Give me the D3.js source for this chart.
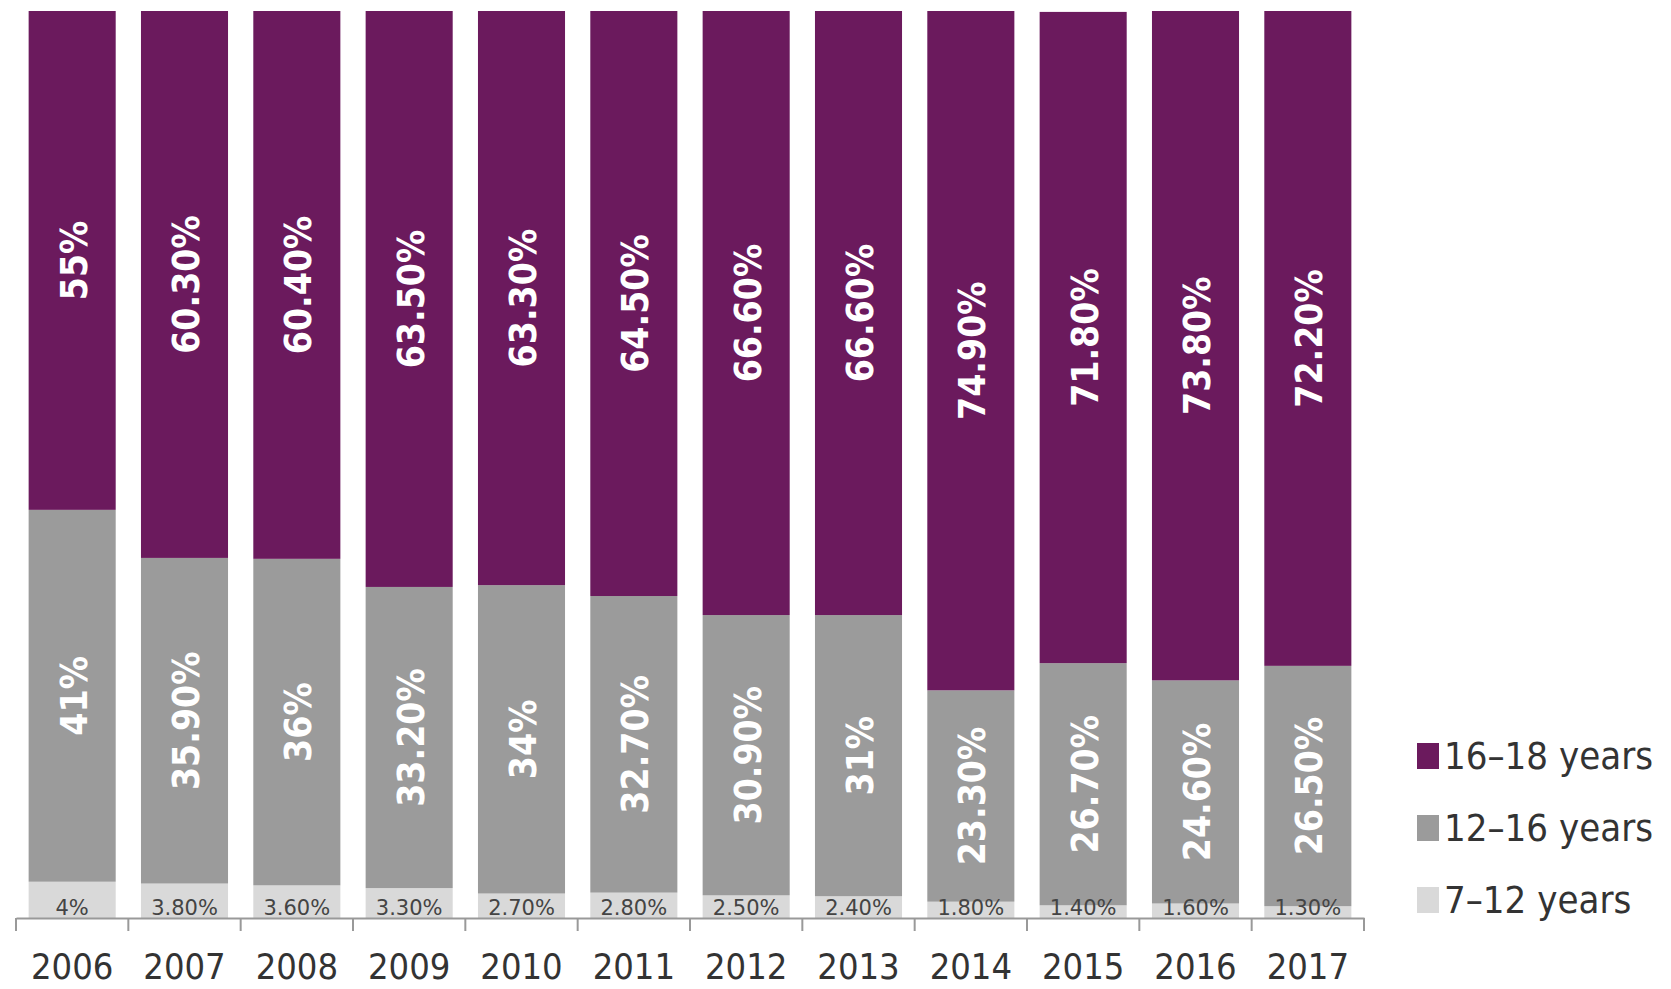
<!DOCTYPE html>
<html>
<head>
<meta charset="utf-8">
<script src="https://cdn.jsdelivr.net/npm/d3@7"></script>
<style>
  html, body { margin: 0; padding: 0; background: #ffffff; }
  svg { display: block; }
</style>
</head>
<body>
<script>
// Share of learners by age group, per year (percent)
const years = ["2006", "2007", "2008", "2009", "2010", "2011", "2012", "2013", "2014", "2015", "2016", "2017"];
const age16to18 = [55, 60.3, 60.4, 63.5, 63.3, 64.5, 66.6, 66.6, 74.9, 71.8, 73.8, 72.2];
const age12to16 = [41, 35.9, 36, 33.2, 34, 32.7, 30.9, 31, 23.3, 26.7, 24.6, 26.5];
const age7to12 = [4, 3.8, 3.6, 3.3, 2.7, 2.8, 2.5, 2.4, 1.8, 1.4, 1.6, 1.3];
const seriesNames = ["7–12 years", "12–16 years", "16–18 years"];
const seriesColors = ["#d9d9d9", "#9b9b9b", "#6b1a5d"];

const W = 1671, H = 989;
const svg = d3.select("body").append("svg").attr("width", W).attr("height", H);

const x = d3.scaleBand().domain(years).range([16, 1364]).paddingInner(0.225).paddingOuter(0.1125);
const y = d3.scaleLinear().domain([0, 100]).range([918, 11]);

const rows = years.map((yr, i) => ({ year: yr, a: age7to12[i], b: age12to16[i], c: age16to18[i] }));
const stack = d3.stack().keys(["a", "b", "c"]);
const layers = stack(rows);

const fmt = v => Number.isInteger(v) ? v + "%" : v.toFixed(2) + "%";

const condensed = "'DejaVu Sans Condensed', 'DejaVu Sans', sans-serif";

// stacked bars
const g = svg.append("g");
layers.forEach((layer, li) => {
  g.selectAll(null).data(layer).enter().append("rect")
    .attr("x", d => x(d.data.year))
    .attr("width", x.bandwidth())
    .attr("y", d => y(d[1]))
    .attr("height", d => y(d[0]) - y(d[1]))
    .attr("fill", seriesColors[li]);
});

// rotated value labels in the two upper segments
[1, 2].forEach(li => {
  g.selectAll(null).data(layers[li]).enter().append("text")
    .attr("transform", d => {
      const cx = x(d.data.year) + x.bandwidth() / 2 + 2;
      const cy = (y(d[0]) + y(d[1])) / 2;
      return `translate(${cx},${cy}) rotate(-90)`;
    })
    .attr("text-anchor", "middle")
    .attr("dominant-baseline", "central")
    .attr("fill", "#ffffff")
    .style("font-family", condensed)
    .style("font-weight", "bold")
    .style("font-size", "37px")
    .text(d => fmt(d[1] - d[0]));
});

// small labels for the bottom segment
g.selectAll(null).data(layers[0]).enter().append("text")
  .attr("x", d => x(d.data.year) + x.bandwidth() / 2)
  .attr("y", 915)
  .attr("text-anchor", "middle")
  .attr("fill", "#444444")
  .style("font-family", "'DejaVu Sans', sans-serif")
  .style("font-size", "21px")
  .text(d => fmt(d[1] - d[0]));

// x axis with year labels
const axis = svg.append("g")
  .attr("transform", `translate(0,${y(0)})`)
  .call(d3.axisBottom(x).tickSize(0).tickSizeOuter(0).tickPadding(35));
axis.select(".domain").attr("stroke", "#999999").attr("stroke-width", 2);
axis.selectAll(".tick text")
  .attr("fill", "#333333")
  .style("font-family", condensed)
  .style("font-size", "36px");

// tick marks at the band boundaries
const gap = x.step() - x.bandwidth();
const bounds = years.map(yr => x(yr) - gap / 2).concat([x(years[years.length - 1]) + x.bandwidth() + gap / 2]);
axis.selectAll(".bound").data(bounds).enter().append("line")
  .attr("class", "bound")
  .attr("x1", d => d).attr("x2", d => d)
  .attr("y1", 0).attr("y2", 13)
  .attr("stroke", "#999999").attr("stroke-width", 2);

// legend
const legend = svg.append("g").attr("transform", "translate(1417,0)");
const legendOrder = [2, 1, 0];
const legendBase = [769, 841, 913];
legendOrder.forEach((si, k) => {
  legend.append("rect")
    .attr("x", 0).attr("y", legendBase[k] - 26)
    .attr("width", 22).attr("height", 26)
    .attr("fill", seriesColors[si]);
  legend.append("text")
    .attr("x", 27).attr("y", legendBase[k])
    .attr("fill", "#333333")
    .style("font-family", condensed)
    .style("font-size", "38px")
    .text(seriesNames[si]);
});
</script>
</body>
</html>
